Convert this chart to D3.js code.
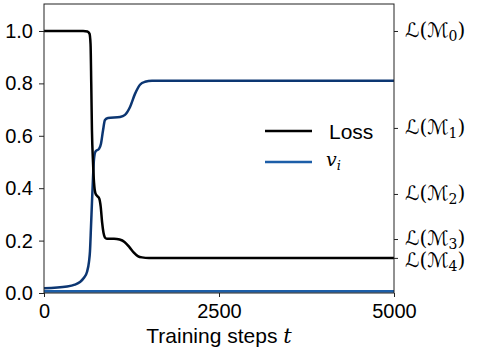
<!DOCTYPE html>
<html>
<head>
<meta charset="utf-8">
<script src="https://cdn.jsdelivr.net/npm/d3@7"></script>
<style>
body { margin: 0; background: #fff; }
text { font-family: "Liberation Sans", Arial, sans-serif; }
</style>
</head>
<body>
<div id="chart"></div>
<script>
// training steps and values
const lossSteps = [0, 560, 620, 650, 665, 675, 685, 700, 715, 735, 760, 790, 810, 830, 850, 870, 900, 1000, 1080, 1150, 1220, 1280, 1340, 1400, 1500, 5000];
const lossVals  = [1.0, 1.0, 0.998, 0.99, 0.95, 0.8, 0.62, 0.5, 0.42, 0.38, 0.37, 0.36, 0.33, 0.27, 0.23, 0.212, 0.207, 0.207, 0.204, 0.195, 0.175, 0.155, 0.141, 0.136, 0.134, 0.134];

const viSteps = [0, 330, 440, 514, 571, 614, 643, 657, 671, 686, 700, 714, 736, 786, 814, 843, 871, 914, 1086, 1157, 1229, 1300, 1371, 1443, 1543, 5000];
const viVals  = [0.018, 0.025, 0.032, 0.042, 0.058, 0.08, 0.12, 0.16, 0.25, 0.35, 0.44, 0.51, 0.54, 0.55, 0.57, 0.62, 0.66, 0.668, 0.672, 0.68, 0.71, 0.76, 0.795, 0.806, 0.81, 0.81];

const flatSteps = [0, 5000];
const flatVals  = [0.006, 0.006];

const xTicks = [0, 2500, 5000];
const yTicks = [0, 0.2, 0.4, 0.6, 0.8, 1.0];
const modelLevels = [1.0, 0.63, 0.378, 0.206, 0.134];
const modelSubs = ['0', '1', '2', '3', '4'];

const width = 478, height = 358;
const margin = {top: 4, right: 84, bottom: 65, left: 44};

const svg = d3.select('#chart').append('svg')
  .attr('width', width).attr('height', height);

const x = d3.scaleLinear().domain([0, 5000]).range([margin.left, width - margin.right]);
const y = d3.scaleLinear().domain([0, 1.103]).range([height - margin.bottom, margin.top]);

const line = d3.line().x(d => x(d[0])).y(d => y(d[1])).curve(d3.curveMonotoneX);
const pairs = (xs, ys) => xs.map((v, i) => [v, ys[i]]);

svg.append('path').datum(pairs(flatSteps, flatVals))
  .attr('d', line).attr('fill', 'none').attr('stroke', '#1c5ea8').attr('stroke-width', 2.8);
svg.append('path').datum(pairs(viSteps, viVals))
  .attr('d', line).attr('fill', 'none').attr('stroke', '#0c3672').attr('stroke-width', 2.5);
svg.append('path').datum(pairs(lossSteps, lossVals))
  .attr('d', line).attr('fill', 'none').attr('stroke', '#000').attr('stroke-width', 2.5);

// frame
svg.append('rect')
  .attr('x', margin.left).attr('y', margin.top)
  .attr('width', width - margin.left - margin.right)
  .attr('height', height - margin.top - margin.bottom)
  .attr('fill', 'none').attr('stroke', '#222').attr('stroke-width', 1);

function styleAxis(g) {
  g.select('.domain').remove();
  g.selectAll('.tick line').attr('stroke', '#222');
  g.selectAll('.tick text').attr('fill', '#000').attr('font-size', 20);
}

svg.append('g')
  .attr('transform', `translate(0,${height - margin.bottom})`)
  .call(d3.axisBottom(x).tickValues(xTicks).tickFormat(d3.format('d')).tickSizeOuter(0).tickSize(4).tickPadding(7))
  .call(styleAxis);

svg.append('g')
  .attr('transform', `translate(${margin.left},0)`)
  .call(d3.axisLeft(y).tickValues(yTicks).tickFormat(d3.format('.1f')).tickSizeOuter(0).tickSize(5).tickPadding(6))
  .call(styleAxis);

const right = svg.append('g')
  .attr('transform', `translate(${width - margin.right},0)`)
  .call(d3.axisRight(y).tickValues(modelLevels).tickFormat('').tickSizeOuter(0).tickSize(4))
  .call(styleAxis);

right.selectAll('.mlabel').data(modelLevels).join('text')
  .attr('class', 'mlabel')
  .attr('x', 11)
  .attr('y', (d, i) => y(d) + 6 + (i === 4 ? 3 : 0))
  .attr('fill', '#000')
  .attr('font-size', 20)
  .style('font-family', '"DejaVu Serif", serif')
  .each(function(d, i) {
    const t = d3.select(this);
    t.append('tspan').style('font-family', '"DejaVu Sans", sans-serif').text('ℒ');
    t.append('tspan').text('(');
    t.append('tspan').style('font-family', '"DejaVu Sans", sans-serif').text('ℳ');
    t.append('tspan').attr('font-size', 14).attr('dy', 4).text(modelSubs[i]);
    t.append('tspan').attr('dy', -4).text(')');
  });

svg.append('text')
  .attr('x', x(2500)).attr('y', 343)
  .attr('text-anchor', 'middle').attr('font-size', 21)
  .text('Training steps ')
  .append('tspan').style('font-family', '"DejaVu Serif", serif').attr('font-style', 'italic').text('t');

// legend
const legend = svg.append('g').attr('transform', 'translate(265,131)');
legend.append('line').attr('x1', 0).attr('x2', 47).attr('stroke', '#000').attr('stroke-width', 2.5);
legend.append('text').attr('x', 64).attr('y', 8).attr('font-size', 21).text('Loss');
legend.append('line').attr('x1', 0).attr('x2', 47).attr('y1', 31).attr('y2', 31).attr('stroke', '#1c5ea8').attr('stroke-width', 2.5);
const vi = legend.append('text').attr('x', 61).attr('y', 35).attr('font-size', 19)
  .style('font-family', '"DejaVu Serif", serif').attr('font-style', 'italic');
vi.append('tspan').text('v');
vi.append('tspan').attr('font-size', 13).attr('dy', 4).text('i');
</script>
</body>
</html>
